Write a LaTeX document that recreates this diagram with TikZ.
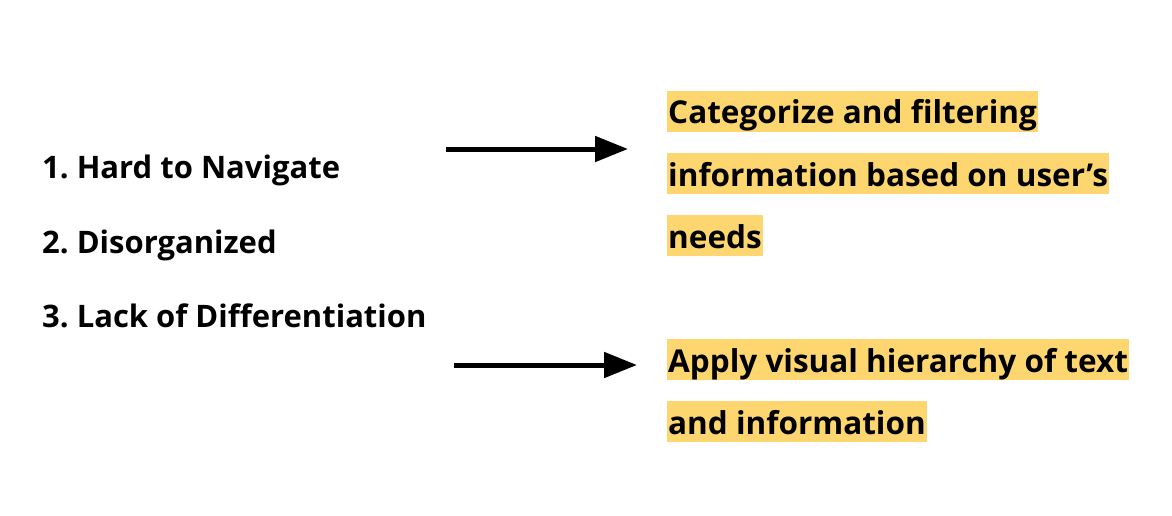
\documentclass[tikz,border=0pt]{standalone}
\usepackage{fontspec}
\setmainfont{Open Sans}
\frenchspacing
\usetikzlibrary{arrows.meta}
\definecolor{marker}{RGB}{254,214,112}
\tikzset{
  item/.style={anchor=base west,inner sep=0pt,font=\fontsize{31}{33}\selectfont\bfseries},
  highlight/.style={anchor=base west,fill=marker,inner xsep=1pt,inner ysep=0pt,text height=33pt,text depth=8pt,font=\fontsize{31.5}{33}\selectfont\bfseries},
  pointer/.style={line width=5pt,-{Triangle[length=33pt,width=25pt]}}
}
\begin{document}
\begin{tikzpicture}[x=1pt,y=-1pt]
	\useasboundingbox (0,0) rectangle (1172,516);
	% problems
	\node[item] (hard) at (42,178) {1. Hard to Navigate};
	\node[item] (disorg) at (42,253) {2. Disorganized};
	\node[item] (lack) at (42,327) {3. Lack of Differentiation};
	% solutions
	\node[highlight] (cat1) at (667,124) {Categorize and filtering};
	\node[highlight] (cat2) at (667,186) {information based on user’s};
	\node[highlight] (cat3) at (667,248) {needs};
	\node[highlight] (app1) at (667,372) {Apply visual hierarchy of text};
	\node[highlight] (app2) at (667,434) {and information};
	% arrows
	\coordinate (a1s) at (446,149); \coordinate (a1e) at (628,149);
	\coordinate (a2s) at (454,365); \coordinate (a2e) at (637,365);
	\draw[pointer] (a1s)--(a1e);
	\draw[pointer] (a2s)--(a2e);
\end{tikzpicture}
\end{document}
